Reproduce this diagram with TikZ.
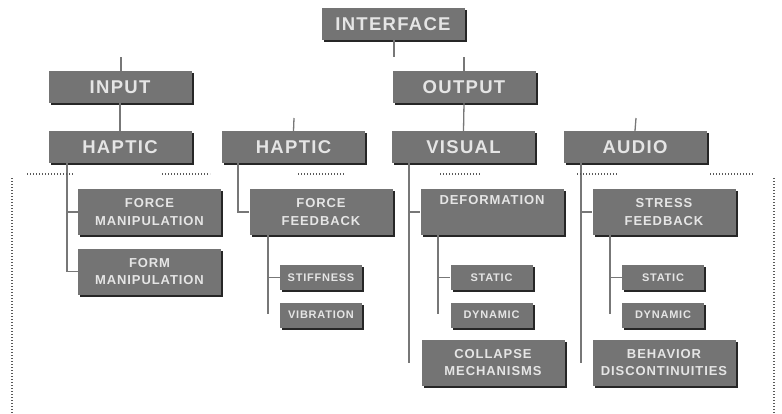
\documentclass[tikz,border=0pt]{standalone}
\usepackage{fontspec}
\usetikzlibrary{positioning,shadows}
\newfontfamily\boxfont[LetterSpace=7]{Liberation Sans}
\definecolor{boxgray}{HTML}{747474}
\definecolor{linegray}{HTML}{777777}
\tikzstyle{box}=[fill=boxgray,text=white!90!black,align=center,inner sep=0pt,
  drop shadow={shadow xshift=2pt,shadow yshift=-2pt,fill=black!85,opacity=1}]
\tikzstyle{big}=[box,minimum width=143pt,minimum height=32pt,
  font=\boxfont\bfseries\fontsize{18.5}{20}\selectfont]
\tikzstyle{mid}=[box,minimum width=143pt,minimum height=46pt,
  font=\boxfont\bfseries\fontsize{13}{17.5}\selectfont]
\tikzstyle{small}=[box,minimum width=82pt,minimum height=25pt,
  font=\boxfont\bfseries\fontsize{11}{12}\selectfont]
\tikzstyle{link}=[draw=linegray,line width=1.3pt]
\tikzstyle{dots}=[draw=black!65,line width=1.2pt,dash pattern=on 1pt off 2pt]
\newcommand{\newBox}[4]{\node[#3](#1) at #4 {#2};}
\newcommand{\newLink}[2]{\draw[link] (#1) |- (#2);}

\begin{document}
\begin{tikzpicture}[x=1pt,y=-1pt]
  \useasboundingbox (0,0) rectangle (782,413);
  % boxes
  \newBox{iface}{INTERFACE}{big}{(393,24)}
  \newBox{input}{INPUT}{big}{(120,87)}
  \newBox{output}{OUTPUT}{big}{(464,87)}
  \newBox{hapA}{HAPTIC}{big}{(120,147)}
  \newBox{hapB}{HAPTIC}{big}{(293.5,147)}
  \newBox{visual}{VISUAL}{big}{(463.5,147)}
  \newBox{audio}{AUDIO}{big}{(635,147)}
  \newBox{forceman}{FORCE\\MANIPULATION}{mid}{(149.5,212)}
  \newBox{formman}{FORM\\MANIPULATION}{mid}{(149.5,271.5)}
  \newBox{forcefb}{FORCE\\FEEDBACK}{mid}{(321,212)}
  \newBox{deform}{DEFORMATION\\[1pt]\strut}{mid}{(492,212)}
  \newBox{stressfb}{STRESS\\FEEDBACK}{mid}{(664,212)}
  \newBox{collapse}{COLLAPSE\\MECHANISMS}{mid}{(493,362.5)}
  \newBox{behavior}{BEHAVIOR\\DISCONTINUITIES}{mid}{(664,362.5)}
  \newBox{stiff}{STIFFNESS}{small}{(321,277.5)}
  \newBox{vibr}{VIBRATION}{small}{(321,315)}
  \newBox{staticA}{STATIC}{small}{(491.5,277.5)}
  \newBox{dynA}{DYNAMIC}{small}{(491.5,315)}
  \newBox{staticB}{STATIC}{small}{(663,277.5)}
  \newBox{dynB}{DYNAMIC}{small}{(663,315)}
  % loose ends
  \coordinate (ifaceEnd) at (394,57);
  \coordinate (inputTop) at (121,57);
  \coordinate (outputTop) at (464,57);
  \coordinate (hapBTop) at (294,118);
  \coordinate (audioTop) at (636,118);
  \coordinate (tA) at (67,163);
  \coordinate (tB) at (238,163);
  \coordinate (tC) at (268,235);
  \coordinate (tCend) at (268,314);
  \coordinate (tV) at (409,163);
  \coordinate (tVend) at (409,363);
  \coordinate (tD) at (438,235);
  \coordinate (tDend) at (438,314);
  \coordinate (tU) at (581,163);
  \coordinate (tUend) at (581,363);
  \coordinate (tS) at (610,235);
  \coordinate (tSend) at (610,314);
  % connectors
  \draw[link] (iface.south -| ifaceEnd) -- (ifaceEnd);
  \draw[link] (input.north -| inputTop) -- (inputTop);
  \draw[link] (output.north) -- (outputTop);
  \draw[link] (input.south) -- (hapA.north);
  \draw[link] (output.south) -- (visual.north);
  \draw[link] (hapB.north) -- (hapBTop);
  \draw[link] (audio.north) -- (audioTop);
  \newLink{tA}{forceman.west}
  \newLink{tA}{formman.west}
  \newLink{tB}{forcefb.west}
  \draw[link] (tC) -- (tCend);
  \draw[link] (tC |- stiff.west) -- (stiff.west);
  \draw[link] (tV) -- (tVend);
  \draw[link] (tV |- deform.west) -- (deform.west);
  \draw[link] (tD) -- (tDend);
  \draw[link] (tD |- staticA.west) -- (staticA.west);
  \draw[link] (tU) -- (tUend);
  \draw[link] (tU |- stressfb.west) -- (stressfb.west);
  \draw[link] (tS) -- (tSend);
  \draw[link] (tS |- staticB.west) -- (staticB.west);
  % dotted frame
  \foreach \a/\b in {27/73,162/210,298/345,440/482,577/617,710/753}
    \draw[dots] (\a,174) -- (\b,174);
  \draw[dots] (12,178) -- (12,413);
  \draw[dots] (774,178) -- (774,413);
\end{tikzpicture}
\end{document}
